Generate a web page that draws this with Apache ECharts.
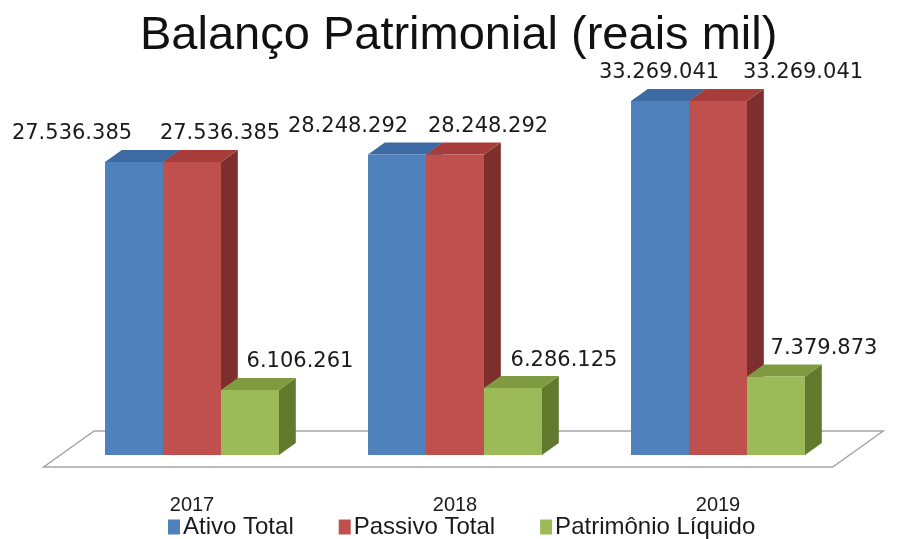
<!DOCTYPE html>
<html>
<head>
<meta charset="utf-8">
<script src="https://cdn.jsdelivr.net/npm/echarts@6/dist/echarts.min.js"></script>
<style>
  html, body { margin: 0; padding: 0; background: #fff; }
  #chart { width: 905px; height: 539px; }
</style>
</head>
<body>
<div id="chart"></div>
<script>
const years = ['2017', '2018', '2019'];
const seriesNames = ['Ativo Total', 'Passivo Total', 'Patrimônio Líquido'];
const ativoTotal = [27536385, 28248292, 33269041];
const passivoTotal = [27536385, 28248292, 33269041];
const patrimonioLiquido = [6106261, 6286125, 7379873];

// face colours: front, top, side
const faces = [
  ['#4F81BD', '#3D6AA3', '#35598A'],
  ['#C0504D', '#A63D3A', '#7E2F2D'],
  ['#9BBB59', '#7E9C3F', '#617A2E']
];
// horizontal shift of each value label (px), like Excel placed them
const labelDx = [
  [-62, -49, -1],
  [28, 33, 85],
  [50, 51, 48]
];

const fmt = v => String(v).replace(/\B(?=(\d{3})+(?!\d))/g, '.');

const chart = echarts.init(document.getElementById('chart'));

function barRenderer(s) {
  return function (params, api) {
    const cat = api.value(0);
    const val = api.value(1);
    const base = api.coord([cat, 0]);
    const top = api.coord([cat, val]);
    const bandW = api.size([1, 0])[0];
    const w = bandW * 0.2205;
    const dx = w * 0.29, dy = -w * 0.207;
    const x0 = base[0] + (s - 1.5) * w;
    const x1 = x0 + w;
    const yb = base[1], yt = top[1];
    const c = faces[s];
    return {
      type: 'group',
      children: [
        { type: 'polygon', shape: { points: [[x1, yb], [x1 + dx, yb + dy], [x1 + dx, yt + dy], [x1, yt]] },
          style: { fill: c[2] } },
        { type: 'polygon', shape: { points: [[x0, yt], [x0 + dx, yt + dy], [x1 + dx, yt + dy], [x1, yt]] },
          style: { fill: c[1] } },
        { type: 'rect', shape: { x: x0, y: yt, width: w, height: yb - yt },
          style: { fill: c[0] } },
        { type: 'text',
          style: {
            text: fmt(val),
            x: x0 + w / 2 + labelDx[s][cat],
            y: yt - 28,
            align: 'center',
            verticalAlign: 'middle',
            fill: '#1a1a1a',
            font: '21px "DejaVu Sans"'
          } }
      ]
    };
  };
}

function floorRenderer(params, api) {
  const cs = params.coordSys;
  const y0 = api.coord([0, 0])[1];
  const w = api.size([1, 0])[0] * 0.2205;
  const dx = w * 0.29, dy = -w * 0.207;
  const l = cs.x, r = cs.x + cs.width;
  return {
    type: 'polygon',
    shape: { points: [
      [l - dx, y0 - dy], [r - dx, y0 - dy],
      [r + 2 * dx, y0 + 2 * dy], [l + 2 * dx, y0 + 2 * dy]
    ] },
    style: { fill: '#fff', stroke: '#a6a6a6', lineWidth: 1.5 }
  };
}

const values = [ativoTotal, passivoTotal, patrimonioLiquido];

const option = {
  animation: false,
  title: {
    text: 'Balanço Patrimonial (reais mil)',
    left: 135,
    top: 8,
    textStyle: { fontFamily: 'Liberation Sans', fontSize: 47, fontWeight: 'normal', color: '#111' }
  },
  legend: {
    data: seriesNames,
    left: 163,
    top: 510,
    icon: 'rect',
    itemWidth: 12,
    itemHeight: 15,
    itemGap: 45,
    textStyle: { fontFamily: 'Liberation Sans', fontSize: 24, color: '#1a1a1a', padding: [0, 0, 0, -2] }
  },
  grid: { left: 60.5, right: 55.5, top: 29.4, bottom: 84 },
  xAxis: {
    type: 'category',
    data: years,
    axisLine: { show: false },
    axisTick: { show: false },
    axisLabel: { margin: 40, fontFamily: 'Liberation Sans', fontSize: 20, color: '#1a1a1a' }
  },
  yAxis: {
    type: 'value',
    min: 0,
    max: 40000000,
    show: false,
    splitLine: { show: false }
  },
  series: [
    { type: 'custom', name: 'floor', renderItem: floorRenderer, data: [[0, 0]], z: 1, silent: true }
  ].concat(values.map((arr, s) => ({
    type: 'custom',
    name: seriesNames[s],
    itemStyle: { color: faces[s][0] },
    renderItem: barRenderer(s),
    data: arr.map((v, i) => [i, v]),
    z: 2 + s
  })))
};

chart.setOption(option);
</script>
</body>
</html>
